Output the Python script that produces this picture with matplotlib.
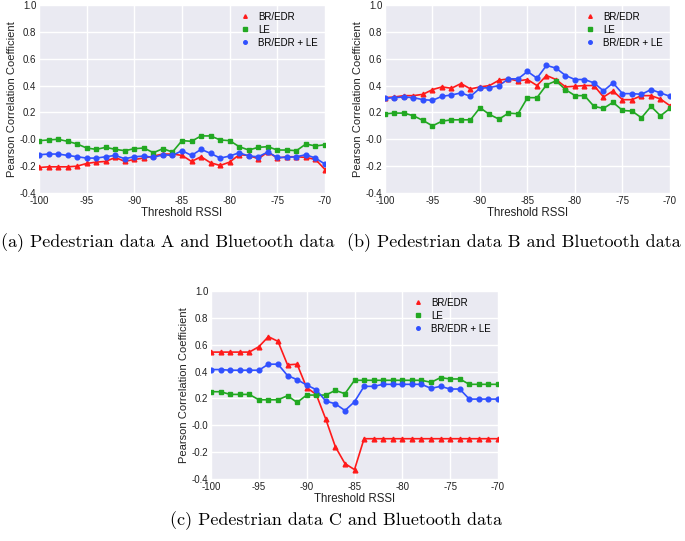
import numpy as np
import matplotlib
matplotlib.use("Agg")
from matplotlib import pyplot as plt

plt.rcParams['font.family'] = ['Liberation Sans', 'DejaVu Sans']
plt.rcParams['axes.unicode_minus'] = False

# threshold RSSI values (-100 .. -70)
rssi = list(range(-100, -69))

# (a) pedestrian data A
a_bredr = [-0.21, -0.205, -0.205, -0.205, -0.2, -0.18, -0.17, -0.165, -0.135, -0.165,
           -0.15, -0.14, -0.125, -0.11, -0.11, -0.12, -0.165, -0.13, -0.175, -0.195,
           -0.17, -0.115, -0.12, -0.145, -0.095, -0.14, -0.13, -0.13, -0.135, -0.15, -0.225]
a_le = [-0.01, -0.005, 0.0, -0.015, -0.035, -0.065, -0.075, -0.06, -0.075, -0.085,
        -0.07, -0.065, -0.1, -0.07, -0.095, -0.01, -0.015, 0.025, 0.025, -0.005,
        -0.01, -0.055, -0.08, -0.06, -0.055, -0.08, -0.08, -0.085, -0.035, -0.05, -0.04]
a_both = [-0.115, -0.11, -0.11, -0.12, -0.13, -0.14, -0.14, -0.13, -0.12, -0.145,
          -0.13, -0.125, -0.135, -0.115, -0.12, -0.085, -0.12, -0.075, -0.105, -0.14,
          -0.125, -0.1, -0.125, -0.13, -0.095, -0.135, -0.135, -0.13, -0.115, -0.14, -0.185]

# (b) pedestrian data B
b_bredr = [0.31, 0.315, 0.325, 0.325, 0.335, 0.37, 0.39, 0.38, 0.415, 0.375,
           0.39, 0.4, 0.44, 0.45, 0.435, 0.445, 0.4, 0.475, 0.445, 0.39,
           0.395, 0.4, 0.4, 0.315, 0.36, 0.295, 0.295, 0.325, 0.325, 0.3, 0.25]
b_le = [0.19, 0.195, 0.195, 0.175, 0.14, 0.1, 0.135, 0.145, 0.145, 0.145,
        0.235, 0.185, 0.15, 0.195, 0.19, 0.31, 0.31, 0.405, 0.435, 0.37,
        0.325, 0.325, 0.245, 0.23, 0.275, 0.215, 0.21, 0.16, 0.245, 0.175, 0.23]
b_both = [0.305, 0.31, 0.315, 0.31, 0.295, 0.29, 0.32, 0.33, 0.345, 0.32,
          0.38, 0.385, 0.4, 0.45, 0.45, 0.505, 0.455, 0.55, 0.53, 0.475,
          0.445, 0.445, 0.42, 0.36, 0.42, 0.34, 0.34, 0.335, 0.37, 0.345, 0.32]

# (c) pedestrian data C
c_bredr = [0.545, 0.545, 0.545, 0.545, 0.545, 0.585, 0.66, 0.625, 0.45, 0.455,
           0.28, 0.23, 0.045, -0.16, -0.285, -0.33, -0.1, -0.1, -0.1, -0.1,
           -0.1, -0.1, -0.1, -0.1, -0.1, -0.1, -0.1, -0.1, -0.1, -0.1, -0.1]
c_le = [0.25, 0.25, 0.23, 0.23, 0.23, 0.19, 0.19, 0.19, 0.22, 0.17,
        0.225, 0.225, 0.225, 0.26, 0.235, 0.335, 0.335, 0.335, 0.335, 0.335,
        0.335, 0.335, 0.335, 0.32, 0.355, 0.345, 0.345, 0.305, 0.305, 0.305, 0.305]
c_both = [0.415, 0.415, 0.41, 0.41, 0.41, 0.41, 0.455, 0.455, 0.37, 0.34,
          0.3, 0.265, 0.18, 0.16, 0.11, 0.175, 0.29, 0.29, 0.305, 0.305,
          0.305, 0.305, 0.305, 0.275, 0.29, 0.27, 0.27, 0.195, 0.195, 0.195, 0.195]

series_labels = ['BR/EDR', 'LE', 'BR/EDR + LE']
y_ticks = [-0.4, -0.2, 0.0, 0.2, 0.4, 0.6, 0.8, 1.0]
y_ticklabels = ['-0.4', '-0.2', '-0.0', '0.2', '0.4', '0.6', '0.8', '1.0']
x_ticks = [-100, -95, -90, -85, -80, -75, -70]

captions = ['(a) Pedestrian data A and Bluetooth data',
            '(b) Pedestrian data B and Bluetooth data',
            '(c) Pedestrian data C and Bluetooth data']

colors = ['#ff1a1a', '#22a822', '#3050ff']
markers = ['^', 's', 'o']

W, H = 685, 541
fig = plt.figure(figsize=(W / 100, H / 100), dpi=100)


def box(left, top, right, bottom):
    return [left / W, 1 - bottom / H, (right - left) / W, (bottom - top) / H]


def draw_panel(ax, data):
    ax.set_facecolor('#eaeaf2')
    for s in ax.spines.values():
        s.set_visible(False)
    ax.grid(True, color='white', linewidth=1.0)
    ax.set_axisbelow(True)
    for vals, col, mk, lab in zip(data, colors, markers, series_labels):
        ax.plot(rssi, vals, color=col, linewidth=1.2, zorder=2)
        ax.plot(rssi, vals, linestyle='none', marker=mk, color=col,
                markersize=3.4, label=lab, zorder=3)
    ax.set_xlim(-100, -70)
    ax.set_ylim(-0.4, 1.0)
    ax.set_xticks(x_ticks)
    ax.set_xticklabels([str(t) for t in x_ticks])
    ax.set_yticks(y_ticks)
    ax.set_yticklabels(y_ticklabels)
    ax.tick_params(length=0, labelsize=7, pad=2, colors='#222222')
    ax.set_xlabel('Threshold RSSI', fontsize=8.3, labelpad=1, color='#222222')
    ax.set_ylabel('Pearson Correlation Coefficient', fontsize=8, labelpad=2,
                  color='#222222')
    ax.legend(loc='upper right', frameon=False, fontsize=7, handletextpad=0.4,
              borderaxespad=0.3, labelspacing=0.3, markerscale=0.75)


ax_a = fig.add_axes(box(39, 5, 325, 193))
ax_b = fig.add_axes(box(385, 5, 670, 193))
ax_c = fig.add_axes(box(211, 291, 498, 479))

draw_panel(ax_a, [a_bredr, a_le, a_both])
draw_panel(ax_b, [b_bredr, b_le, b_both])
draw_panel(ax_c, [c_bredr, c_le, c_both])

cap_font = dict(family='cmr10', fontsize=13, ha='center', va='center')
fig.text(168 / W, 1 - 243 / H, captions[0], **cap_font)
fig.text(514 / W, 1 - 243 / H, captions[1], **cap_font)
fig.text(336 / W, 1 - 521 / H, captions[2], **cap_font)

fig.savefig('out.png', dpi=100)
plt.close(fig)
